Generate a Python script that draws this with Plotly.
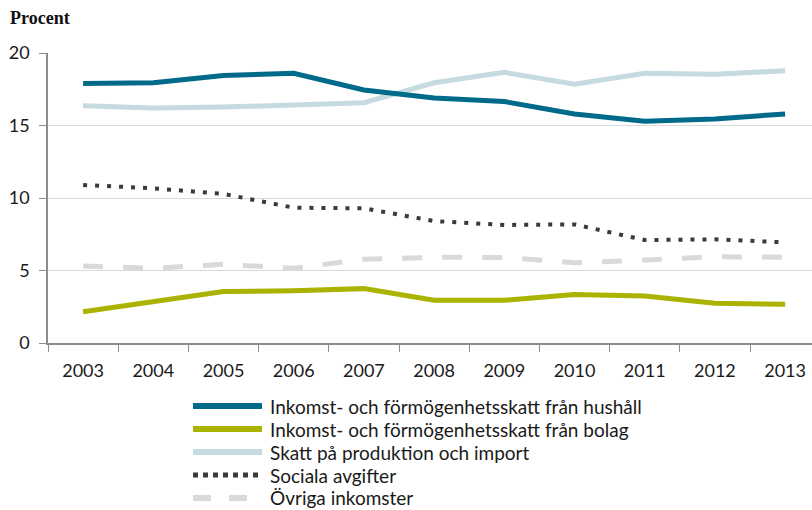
import plotly.graph_objects as go

years = ["2003", "2004", "2005", "2006", "2007", "2008", "2009", "2010", "2011", "2012", "2013"]
hushall = [17.9, 17.95, 18.45, 18.6, 17.45, 16.9, 16.65, 15.8, 15.3, 15.45, 15.8]
bolag = [2.16, 2.85, 3.55, 3.6, 3.75, 2.95, 2.95, 3.35, 3.24, 2.74, 2.67]
produktion = [16.37, 16.2, 16.27, 16.46, 16.57, 17.95, 18.67, 17.84, 18.6, 18.53, 18.78]
sociala = [10.9, 10.67, 10.28, 9.33, 9.29, 8.41, 8.14, 8.18, 7.1, 7.15, 6.94]
ovriga = [5.31, 5.15, 5.43, 5.15, 5.77, 5.91, 5.9, 5.54, 5.72, 5.95, 5.91]
y_ticks = [0, 5, 10, 15, 20]

names = [
    "Inkomst- och förmögenhetsskatt från hushåll",
    "Inkomst- och förmögenhetsskatt från bolag",
    "Skatt på produktion och import",
    "Sociala avgifter",
    "Övriga inkomster",
]
series = [hushall, bolag, produktion, sociala, ovriga]
colors = ["#006A8A", "#A9B300", "#C5DAE1", "#3A3A3A", "#D9D9D9"]
widths = [5, 5, 5, 4, 5]
dashes = ["solid", "solid", "solid", "4px,8px", "20px,20px"]

W, H = 812, 510
L, R, T, B = 48, 0, 53, 167
pw, ph = W - L - R, H - T - B

fig = go.Figure()
order = [4, 3, 1, 2, 0]
for i in order:
    fig.add_trace(go.Scatter(
        x=years, y=series[i], name=names[i], mode="lines",
        line=dict(color=colors[i], width=widths[i], dash=dashes[i]),
        showlegend=False,
    ))

font = "Lato, Noto Sans, sans-serif"

shapes = []
annotations = []
row_y = [406, 429, 452, 475, 498]
for i, name in enumerate(names):
    py = row_y[i]
    yp = (T + ph - py) / ph
    x0 = (193 - L) / pw
    x1 = (262 - L) / pw
    dash = "solid"
    if i == 3:
        dash = "dot"
    if i == 4:
        dash = "dash"
    shapes.append(dict(type="line", xref="paper", yref="paper",
                       x0=x0, x1=x1, y0=yp, y1=yp,
                       line=dict(color=colors[i], width=6 if i != 3 else 5,
                                 dash=dash)))
    annotations.append(dict(xref="paper", yref="paper", x=(268 - L) / pw, y=yp,
                            xanchor="left", yanchor="middle", showarrow=False,
                            text=name, font=dict(family=font, size=19, color="#1a1a1a")))

annotations.append(dict(xref="paper", yref="paper", x=(8 - L) / pw, y=(T + ph - 18) / ph,
                        xanchor="left", yanchor="middle", showarrow=False,
                        text="<b>Procent</b>",
                        font=dict(family="Liberation Serif, serif", size=18, color="#111")))

fig.update_layout(
    width=W, height=H,
    margin=dict(l=L, r=R, t=T, b=B, pad=0, autoexpand=False),
    paper_bgcolor="white", plot_bgcolor="white",
    shapes=shapes, annotations=annotations,
    showlegend=False,
)
fig.update_xaxes(
    type="category", range=[-0.5, -0.5 + pw / 70.2], automargin=False,
    tickson="boundaries", ticks="outside", ticklen=7, tickcolor="#8C8C8C",
    showline=True, linecolor="#8C8C8C", linewidth=1.5, showgrid=False,
    tickfont=dict(family=font, size=18, color="#1a1a1a"),
    ticklabelstandoff=11,
)
fig.update_yaxes(
    range=[0, 20], tickvals=y_ticks, ticks="outside", ticklen=7, tickcolor="#8C8C8C",
    showline=True, linecolor="#8C8C8C", linewidth=1.5, automargin=False,
    showgrid=True, gridcolor="#D9D9D9", gridwidth=1, zeroline=False,
    tickfont=dict(family=font, size=18, color="#1a1a1a"),
    ticklabelstandoff=6,
)

fig.write_html(
    "out.html",
    config={"displayModeBar": False},
    post_script="document.body.style.margin='0px';document.body.style.overflow='hidden';",
)
